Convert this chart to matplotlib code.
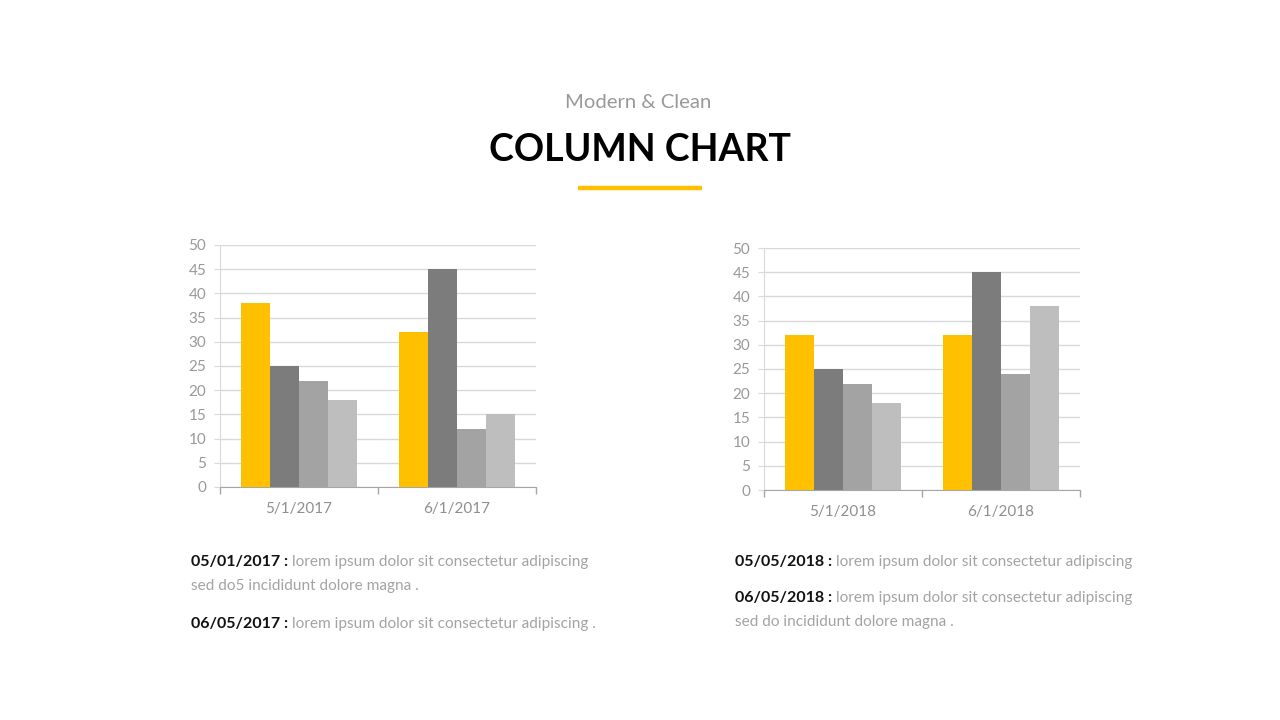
import matplotlib
matplotlib.use("Agg")
import matplotlib.pyplot as plt
import numpy as np

plt.rcParams['font.family'] = ['Lato', 'DejaVu Sans']

# ---- data ----
categories_2017 = ['5/1/2017', '6/1/2017']
s1_2017 = [38, 32]
s2_2017 = [25, 45]
s3_2017 = [22, 12]
s4_2017 = [18, 15]

categories_2018 = ['5/1/2018', '6/1/2018']
s1_2018 = [32, 32]
s2_2018 = [25, 45]
s3_2018 = [22, 24]
s4_2018 = [18, 38]

y_ticks = [0, 5, 10, 15, 20, 25, 30, 35, 40, 45, 50]

notes_left = [("05/01/2017 :", ["lorem ipsum dolor sit consectetur adipiscing", "sed do5 incididunt dolore magna ."]),
              ("06/05/2017 :", ["lorem ipsum dolor sit consectetur adipiscing ."])]
notes_right = [("05/05/2018 :", ["lorem ipsum dolor sit consectetur adipiscing"]),
               ("06/05/2018 :", ["lorem ipsum dolor sit consectetur adipiscing", "sed do incididunt dolore magna ."])]

colors = ['#FFC000', '#7C7C7C', '#A3A3A3', '#BEBEBE']

W, H = 1280, 720
fig = plt.figure(figsize=(12.8, 7.2), dpi=100)
fig.patch.set_facecolor('white')

LIGHT = '#A3A3A3'


def px(x, y):
    return x / W, 1 - y / H


def draw_chart(rect, cats, series):
    ax = fig.add_axes(rect)
    n = len(series)
    group = 0.728
    bw = group / n
    x = np.arange(len(cats))
    for i, (vals, c) in enumerate(zip(series, colors)):
        ax.bar(x - group / 2 + bw * (i + 0.5), vals, width=bw, color=c, zorder=3, linewidth=0)
    ax.set_xlim(-0.5, len(cats) - 0.5)
    ax.set_ylim(0, 50)
    ax.set_yticks(y_ticks)
    ax.set_yticklabels([str(v) for v in y_ticks], fontsize=11, color='#999999')
    ax.grid(axis='y', color='#D9D9D9', linewidth=1, zorder=0)
    ax.set_xticks(x)
    ax.set_xticklabels(cats, fontsize=11, color='#8F8F8F')
    ax.tick_params(axis='x', length=0, pad=11)
    ax.tick_params(axis='y', length=4, color='#D9D9D9', pad=6)
    # category boundary ticks
    ax.set_xticks(np.arange(len(cats) + 1) - 0.5, minor=True)
    ax.tick_params(axis='x', which='minor', length=5, color='#A6A6A6', width=1)
    for s in ['top', 'right']:
        ax.spines[s].set_visible(False)
    ax.spines['left'].set_color('#D9D9D9')
    ax.spines['bottom'].set_color('#A6A6A6')
    ax.set_facecolor('none')
    return ax


draw_chart([220 / W, (H - 487) / H, 316 / W, 242 / H], categories_2017,
           [s1_2017, s2_2017, s3_2017, s4_2017])
draw_chart([764 / W, (H - 490) / H, 316 / W, 242 / H], categories_2018,
           [s1_2018, s2_2018, s3_2018, s4_2018])

# ---- titles ----
fig.text(*px(638, 102), "Modern & Clean", ha='center', va='center', fontsize=14.6,
         color='#999999')
fig.text(*px(640, 150), "COLUMN CHART", ha='center', va='center', fontsize=27,
         color='#000000', fontweight='bold')
fig.add_artist(plt.Line2D([578 / W, 702 / W], [1 - 187.5 / H, 1 - 187.5 / H],
                          color='#FFC000', linewidth=3.2, solid_capstyle='butt'))

renderer = fig.canvas.get_renderer()


def draw_notes(x0, ys, notes):
    for y, (bold, lines) in zip(ys, notes):
        t = fig.text(*px(x0, y), bold + " ", ha='left', va='center', fontsize=11.5,
                     color='#111111', fontweight='bold')
        bb = t.get_window_extent(renderer=renderer)
        fig.text(bb.x1 / W, 1 - y / H, lines[0], ha='left', va='center', fontsize=11.1,
                 color=LIGHT)
        for k, ln in enumerate(lines[1:], start=1):
            fig.text(*px(x0, y + 24 * k), ln, ha='left', va='center', fontsize=11.1,
                     color=LIGHT)


draw_notes(191, [562, 624], notes_left)
draw_notes(735, [562, 598], notes_right)

fig.savefig("out.png", dpi=100, facecolor='white')
